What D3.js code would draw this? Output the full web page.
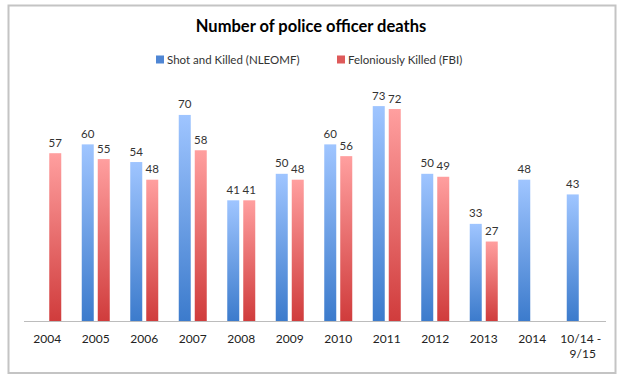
<!DOCTYPE html>
<html>
<head>
<meta charset="utf-8">
<script src="https://cdn.jsdelivr.net/npm/d3@7"></script>
<style>
  html, body { margin: 0; padding: 0; background: #fff; }
  svg { display: block; }
  text { font-family: Lato, "Open Sans", sans-serif; }
</style>
</head>
<body>
<svg id="chart" width="620" height="381"></svg>
<script>
const categories = ["2004", "2005", "2006", "2007", "2008", "2009", "2010", "2011", "2012", "2013", "2014", "10/14 - 9/15"];
const shotKilled = [null, 60, 54, 70, 41, 50, 60, 73, 50, 33, 48, 43];
const feloniouslyKilled = [57, 55, 48, 58, 41, 48, 56, 72, 49, 27, null, null];
const seriesNames = ["Shot and Killed (NLEOMF)", "Feloniously Killed (FBI)"];
const yMax = 80;

const svg = d3.select("#chart");

// gradients
const defs = svg.append("defs");
const grads = [
  {id: "gBlue", top: "#9fc5ff", bottom: "#3c7bcc"},
  {id: "gRed", top: "#ff9f9f", bottom: "#d03c3c"}
];
grads.forEach(g => {
  const lg = defs.append("linearGradient").attr("id", g.id)
    .attr("x1", 0).attr("y1", 0).attr("x2", 0).attr("y2", 1);
  lg.append("stop").attr("offset", "0%").attr("stop-color", g.top);
  lg.append("stop").attr("offset", "100%").attr("stop-color", g.bottom);
});
const legendColors = ["#4f86d4", "#de5a5a"];

// outer border
svg.append("rect").attr("x", 8.5).attr("y", 5.5).attr("width", 607).attr("height", 367.5)
  .attr("fill", "#fff").attr("stroke", "#c4c4c4").attr("stroke-width", 2);

// title
svg.append("text").attr("x", 311).attr("y", 32).attr("text-anchor", "middle")
  .attr("font-weight", "bold").attr("font-size", 16.5).attr("fill", "#000")
  .text("Number of police officer deaths");

// legend
const legendItems = [
  {name: seriesNames[0], x: 156, color: legendColors[0]},
  {name: seriesNames[1], x: 337, color: legendColors[1]}
];
legendItems.forEach(l => {
  svg.append("rect").attr("x", l.x).attr("y", 55.5).attr("width", 8).attr("height", 8).attr("fill", l.color);
  svg.append("text").attr("x", l.x + 11).attr("y", 63.5).attr("font-size", 11.5).attr("fill", "#333").text(l.name);
});

const x0 = d3.scaleBand().domain(categories).range([23, 605]).paddingInner(0).paddingOuter(0);
const x1 = d3.scaleBand().domain([0, 1]).range([0, 28]).paddingInner(0.25).paddingOuter(0);
const y = d3.scaleLinear().domain([0, yMax]).range([321, 85.5]);

const data = categories.map((c, i) => ({cat: c, vals: [shotKilled[i], feloniouslyKilled[i]]}));

const groups = svg.append("g").selectAll("g").data(data).join("g")
  .attr("transform", d => `translate(${x0(d.cat) + x0.bandwidth() / 2 - 14},0)`);

groups.selectAll("rect").data(d => d.vals.map((v, k) => ({v, k})).filter(e => e.v !== null)).join("rect")
  .attr("x", e => x1(e.k)).attr("width", x1.bandwidth())
  .attr("y", e => y(e.v)).attr("height", e => y(0) - y(e.v))
  .attr("fill", e => e.k === 0 ? "url(#gBlue)" : "url(#gRed)");

groups.selectAll("text").data(d => d.vals.map((v, k) => ({v, k})).filter(e => e.v !== null)).join("text")
  .attr("x", e => x1(e.k) + x1.bandwidth() / 2).attr("y", e => y(e.v) - 6.5)
  .attr("text-anchor", "middle").attr("font-size", 11.5).attr("fill", "#333")
  .text(e => e.v);

// x axis
const axis = svg.append("g").attr("transform", "translate(0,321)")
  .call(d3.axisBottom(x0).tickSize(0).tickPadding(0).tickFormat(() => ""));
axis.select(".domain").attr("stroke", "#bcbcbc").attr("stroke-width", 1.2)
  .attr("d", "M24,0.5H606");
axis.selectAll(".tick text").remove();
axis.selectAll(".tick").each(function(d) {
  const parts = d.indexOf(" - ") >= 0 ? [d.split(" - ")[0] + " -", d.split(" - ")[1]] : [d];
  const t = d3.select(this).append("text").attr("text-anchor", "middle")
    .attr("font-size", 12).attr("fill", "#222");
  parts.forEach((p, i) => {
    t.append("tspan").attr("x", i === 1 ? 2 : 0).attr("y", 22 + i * 15).text(p);
  });
});
</script>
</body>
</html>
